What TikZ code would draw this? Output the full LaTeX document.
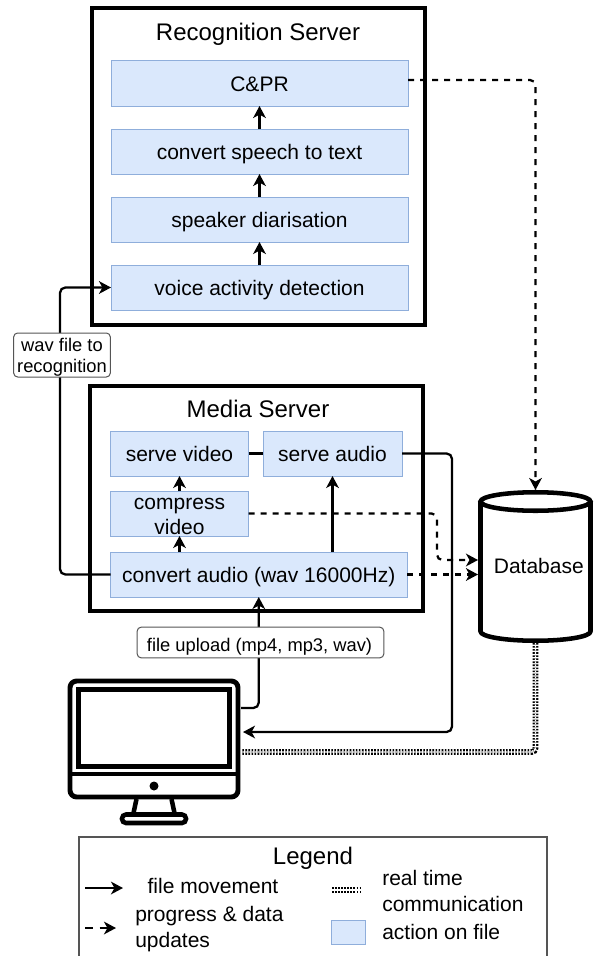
\documentclass[tikz,border=0pt]{standalone}
\usepackage{fontspec}
\setmainfont{Liberation Sans}
\usetikzlibrary{arrows.meta}
\tikzset{
  x=0.75pt,y=-0.75pt,
  action/.style={draw=actionline,fill=actionfill,line width=0.75pt,inner sep=0pt,outer sep=0pt,align=center,font=\fontsize{15.75}{18.75}\selectfont,text height=12pt,text depth=0pt},
  action2/.style={action,text height=30.75pt},
  server/.style={draw=black,line width=3.7pt},
  titletext/.style={font=\fontsize{18}{21}\selectfont,inner sep=0pt,text height=12pt,text depth=0pt},
  lgtext/.style={font=\fontsize{15.75}{19.5}\selectfont,inner sep=0pt,align=left},
  flow/.style={draw=black,line width=1.7pt,rounded corners=4pt,-{Stealth[length=9pt,width=9.5pt,inset=2.6pt]}},
  plainflow/.style={draw=black,line width=1.7pt},
  update/.style={flow,dash pattern=on 4.5pt off 4.5pt},
  realtime/.style={draw=black,line width=1.7pt,double=white,double distance=1pt,dash pattern=on 1.2pt off 1.1pt,rounded corners=3pt},
  tag/.style={draw=taglines,fill=white,rounded corners=3pt,line width=0.75pt,inner sep=0pt,align=center,font=\fontsize{13.75}{15.75}\selectfont},
  device/.style={draw=black,line width=3.7pt,rounded corners=5pt,line join=round}
}
\definecolor{actionfill}{HTML}{DAE8FC}
\definecolor{actionline}{HTML}{8FAEDB}
\definecolor{taglines}{HTML}{555555}
\newcommand{\actbox}[7][action]{\node[#1,minimum width={(#5-#3)*0.75pt},minimum height={(#6-#4)*0.75pt}] (#2) at ({(#3+#5)/2},{(#4+#6)/2}) {#7};}
\begin{document}
\begin{tikzpicture}
\useasboundingbox (0,0) rectangle (594,956);
\fill[white] (0,0) rectangle (594,956);
% servers
\draw[server] (92,8) rectangle (425,325);
\draw[server] (90,386) rectangle (423,611);
\node[titletext] (rectitle) at (258,33) {Recognition Server};
\node[titletext] (medtitle) at (258,409) {Media Server};
% actions
\actbox{cpr}{111}{61}{408}{106}{C\&PR}
\actbox{stt}{111}{129}{408}{174}{convert speech to text}
\actbox{diar}{111}{197}{408}{242}{speaker diarisation}
\actbox{vad}{111}{265}{408}{310}{voice activity detection}
\actbox{svideo}{110.5}{431}{248.5}{476}{serve video}
\actbox{saudio}{263}{431}{402}{476}{serve audio}
\actbox[action2]{comp}{110.5}{491}{248.5}{536}{compress\\video}
\actbox{conv}{110.5}{552}{407}{597}{convert audio (wav 16000Hz)}
% database
\node[inner sep=0pt,outer sep=0pt,minimum width=86.25pt,minimum height=114.75pt,font=\fontsize{15.75}{18.75}\selectfont] (db) at (535.5,565.5) {\hspace{5pt}Database};
\draw[black,line width=3.4pt,line join=round] (480.5,501.5) -- (480.5,631.5) .. controls (480.5,636.6) and (505,640.75) .. (535.5,640.75) .. controls (566,640.75) and (590.5,636.6) .. (590.5,631.5) -- (590.5,501.5);
\draw[black,line width=3.4pt] (480.5,501.5) .. controls (480.5,496.4) and (505,492.25) .. (535.5,492.25) .. controls (566,492.25) and (590.5,496.4) .. (590.5,501.5) .. controls (590.5,506.6) and (566,510.75) .. (535.5,510.75) .. controls (505,510.75) and (480.5,506.6) .. (480.5,501.5) -- cycle;
% monitor
\node[inner sep=0pt,outer sep=0pt,minimum width=130.5pt,minimum height=110pt] (mon) at (154,751) {};
\draw[device] (70,681) rectangle (238,797);
\draw[draw=black,line width=3.7pt] (78.5,689.5) rectangle (229.5,766.5);
\draw[draw=black,line width=3.7pt] (68,774) -- (240,774);
\fill[black] (154,786) circle[radius=4.5];
\draw[draw=black,line width=3.4pt] (136.5,799) -- (133.5,813);
\draw[draw=black,line width=3.4pt] (171.5,799) -- (174.5,813);
\draw[draw=black,line width=3.4pt,rounded corners=3pt] (122,814.5) rectangle (186,823);
\coordinate (monA) at (241,708);
\coordinate (monB) at (243,732);
\coordinate (monC) at (242,752);
\coordinate (dbA) at (478,560);
\coordinate (dbB) at (478,574.5);
% connectors
\draw[flow] (stt.north) -- (cpr.south);
\draw[flow] (diar.north) -- (stt.south);
\draw[flow] (vad.north) -- (diar.south);
\draw[flow] (comp.north) -- (svideo.south);
\draw[flow] (comp.south |- conv.north) -- (comp.south);
\draw[flow] (conv.north -| saudio.south) -- (saudio.south);
\draw[plainflow] (svideo.east) -- (saudio.west);
\coordinate (wavbend) at (60,355);
\draw[flow] (conv.west) -| (wavbend) |- (vad.west);
\coordinate (audiobend) at (452,732);
\draw[flow] (saudio.east) -| (audiobend) -- (monB);
\draw[flow] (monA) -| (conv.south);
\coordinate (compbend) at (437,513.5);
\draw[update] (comp.east) -- (compbend) |- (dbA);
\draw[update] (conv.east) -- (dbB);
\draw[update] ([yshift=2.6pt]cpr.east) -| (db.north |- 0,490);
\draw[realtime] (535.5,643) |- (monC);
% labels
\node[tag,minimum width=72.5pt,minimum height=33pt,text height=26.25pt,text depth=0pt] (wav) at (62,355) {wav file to\\recognition};
\node[tag,minimum width=185pt,minimum height=23pt,text height=13pt,text depth=0pt] (upl) at (260.5,642.5) {\hspace{-1.5pt}file upload (mp4, mp3, wav)};
% legend
\draw[draw=taglines,line width=1.1pt] (79,837) rectangle (547,965);
\node[titletext] (lgtitle) at (313,856) {Legend};
\coordinate (l1a) at (85,888);
\coordinate (l1b) at (123,888);
\coordinate (l2a) at (85,928);
\coordinate (l2b) at (116,928);
\coordinate (l3a) at (332,890);
\coordinate (l3b) at (362,890);
\draw[flow] (l1a) -- (l1b);
\draw[update,dash pattern=on 6pt off 5pt] (l2a) -- (l2b);
\draw[realtime] (l3a) -- (l3b);
\node[lgtext] (lg1) at (213,886) {file movement};
\node[lgtext,anchor=west] (lg2) at (135,929) {progress \& data\\updates};
\node[lgtext,anchor=west] (lg3) at (382,891) {real time\\communication};
\node[lgtext,anchor=west] (lg4) at (382,932) {action on file};
\actbox{lgswatch}{331}{920}{365}{944}{}
\end{tikzpicture}
\end{document}
